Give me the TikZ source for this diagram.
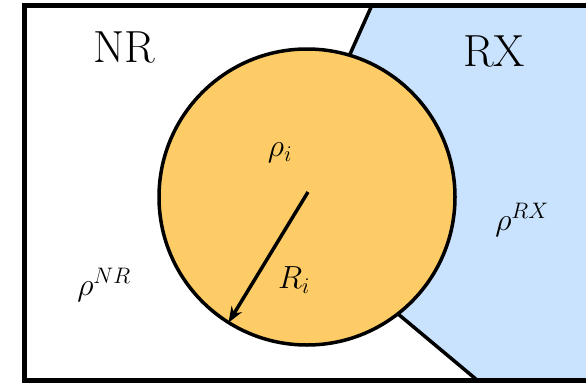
\documentclass[tikz,border=0pt]{standalone}
\usepackage{fix-cm}
\usetikzlibrary{arrows.meta}
\definecolor{rxblue}{HTML}{C9E3FE}
\definecolor{grainorange}{HTML}{FECC66}
\tikzset{
  bigtext/.style={font=\fontsize{45}{50}\selectfont, inner sep=0pt},
  mathtext/.style={font=\fontsize{32}{36}\selectfont, inner sep=0pt},
  edgeline/.style={line width=3.5pt, line join=round},
  grain/.style={circle, draw=black, line width=3.5pt, fill=grainorange, minimum size=296pt, inner sep=0pt}
}
\begin{document}
\begin{tikzpicture}[x=1pt, y=-1pt]
  \useasboundingbox (0,0) rectangle (586,383);
  \clip (0,0) rectangle (586,383);
  % RX region
  \coordinate (rxtop) at (372,5);
  \coordinate (rxmid) at (278.5,214);
  \coordinate (rxbot) at (477,380);
  \fill[rxblue] (rxtop) -- (rxmid) -- (rxbot) -- (620,380) -- (620,5) -- cycle;
  \draw[edgeline] (rxtop) -- (rxmid) -- (rxbot);
  % grain
  \node[grain] (g) at (307,197) {};
  \coordinate (arrstart) at (308,192);
  \draw[line width=3.5pt, -{Stealth[length=16pt, width=12pt]}, shorten >=1.5pt] (arrstart) -- (g.238);
  % outer box
  \draw[line width=5pt] (24,5) rectangle (640,380);
  % labels
  \node[bigtext] (nr) at (124,47) {NR};
  \node[bigtext] (rx) at (494,51) {RX};
  \node[mathtext] (rhoi) at (280,153) {$\rho_i$};
  \node[mathtext] (ri) at (294,280) {$R_i$};
  \node[mathtext] (rhonr) at (104,285) {$\rho^{NR}$};
  \node[mathtext] (rhorx) at (522,220) {$\rho^{RX}$};
\end{tikzpicture}
\end{document}
